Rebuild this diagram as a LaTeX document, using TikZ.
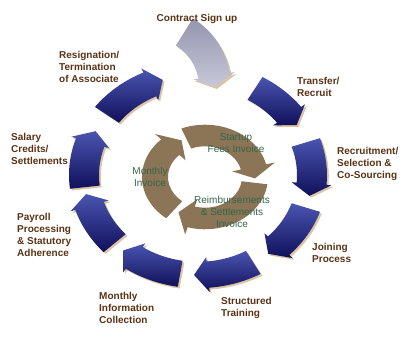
\documentclass[tikz,border=0pt]{standalone}
\usepackage{fontspec}
\setmainfont{Liberation Sans}
\usetikzlibrary{positioning}

\definecolor{segtop}{HTML}{4A55B0}
\definecolor{segbot}{HTML}{10105A}
\definecolor{greytop}{HTML}{9494AE}
\definecolor{greybot}{HTML}{C8C8DA}
\definecolor{ringbrown}{HTML}{8C7456}
\definecolor{labelbrown}{HTML}{5A3214}
\definecolor{invgreen}{HTML}{336648}
\definecolor{shadowtan}{HTML}{D2B68E}

% curved arrow block: tail angle, tip angle, inner r, outer r, head angle
\newcommand{\segpath}[5]{(#1:#4pt) arc[start angle=#1, end angle=#2+#5, radius=#4pt]
  -- ({#2+#5}:{#4+5}) -- (#2:{(#3+#4)/2}) -- ({#2+#5}:{#3-5}) -- ({#2+#5}:#3pt)
  arc[start angle=#2+#5, end angle=#1, radius=#3pt] -- cycle}
% inner ring arrow: tail angle, tip angle
\newcommand{\brownpath}[2]{(#1:63pt) arc[start angle=#1, end angle=#2+16, radius=63pt]
  -- ({#2+16}:72pt) -- (#2:50pt) -- ({#2+16}:28pt) -- ({#2+16}:37pt)
  arc[start angle=#2+16, end angle=#1, radius=37pt] -- cycle}

\begin{document}
\begin{tikzpicture}[x=1pt, y=1pt,
    lbl/.style={font=\bfseries\fontsize{10}{12}\selectfont, text=labelbrown, align=left, anchor=west, inner sep=0pt},
    inv/.style={font=\fontsize{10}{12}\selectfont, text=invgreen, align=center, inner sep=0pt},
    segshadow/.style={fill=shadowtan, opacity=0.8}
]
\useasboundingbox (0,0) rectangle (410,338);

% outer ring
\begin{scope}[shift={(198,163)}, yscale=0.877]
  \foreach \ta/\tb in {60/30, 19/-12, -19/-52, -61/-92, -99/-131,
      -137/-169, -173/-206, -217/-252} {
    \path[segshadow, shift={(1.8,-2)}] \segpath{\ta}{\tb}{99}{129}{7};
    \path[top color=segtop, bottom color=segbot] \segpath{\ta}{\tb}{99}{129}{7};
  }
\end{scope}

% contract sign up, tilted in
\begin{scope}[shift={(150,251)}]
  \path[segshadow, shift={(1.8,-2)}] \segpath{58}{0}{49}{81}{10};
  \path[top color=greytop, bottom color=greybot] \segpath{58}{0}{49}{81}{10};
\end{scope}

% inner ring
\begin{scope}[shift={(205,161)}, yscale=0.83]
  \foreach \ta/\tb in {112/-2, -8/-122, -128/-242}
    \path[fill=ringbrown] \brownpath{\ta}{\tb};
\end{scope}

\node[inv] (startup) at (236,195) {Startup\\Fees Invoice};
\node[inv] (monthly) at (150,161) {Monthly\\Invoice};
\node[inv] (reimb) at (232,126) {Reimbursements\\\& Settlements\\Invoice};

\node[lbl, anchor=center] (contract) at (197,319) {Contract Sign up};
\node[lbl] (transfer) at (297,251) {Transfer/\\Recruit};
\node[lbl] (recruit) at (337,174) {Recruitment/\\Selection \&\\Co-Sourcing};
\node[lbl] (joining) at (312,85) {Joining\\Process};
\node[lbl] (training) at (221,30) {Structured\\Training};
\node[lbl] (collect) at (99,30) {Monthly\\Information\\Collection};
\node[lbl] (payroll) at (17,103) {Payroll\\Processing\\\& Statutory\\Adherence};
\node[lbl] (salary) at (11,189) {Salary\\Credits/\\Settlements};
\node[lbl] (resign) at (59,271) {Resignation/\\Termination\\of Associate};
\end{tikzpicture}
\end{document}
